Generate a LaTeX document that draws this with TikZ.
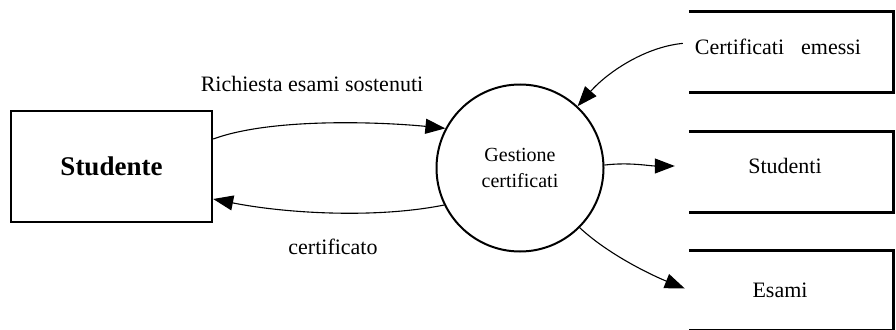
\documentclass[tikz,border=0pt]{standalone}
\usepackage{fontspec}
\setmainfont{Liberation Serif}
\usetikzlibrary{arrows.meta,calc}
\begin{document}
\begin{tikzpicture}[x=1pt,y=-1pt,
  flow/.style={line width=1.1pt,-{Triangle[length=20pt,width=15pt]}},
  entity/.style={draw,line width=2.4pt,minimum width=201pt,minimum height=111pt,inner sep=0pt,
    font=\bfseries\fontsize{27}{30}\selectfont},
  process/.style={circle,draw,line width=2pt,minimum size=167pt,inner sep=0pt,align=center,
    font=\fontsize{20}{26}\selectfont},
  storebox/.style={minimum width=204pt,minimum height=80pt,inner sep=0pt},
  storeline/.style={line width=2.8pt},
  lbl/.style={font=\fontsize{22}{26}\selectfont,inner sep=0pt,anchor=base}]
\useasboundingbox (0,0) rectangle (896,329);

% external entity and process
\node[entity] (stud) at (111.5,166.5) {Studente};
\node[process] (circ) at (520,168) {Gestione\\certificati};

% data stores (open on the left)
\node[storebox] (sA) at (791,52) {};
\node[storebox] (sB) at (791,172) {};
\node[storebox] (sC) at (791,290.5) {};
\foreach \s in {sA,sB,sC}
  \draw[storeline] (\s.north west) -- (\s.north east) -- (\s.south east) -- (\s.south west);

\node[lbl] (tA) at (778,55) {Certificati\hspace{17pt}emessi};
\node[lbl] (tB) at (785,173) {Studenti};
\node[lbl] (tC) at (780,297) {Esami};

% flow labels
\node[lbl] (lReq) at (312,92) {Richiesta esami sostenuti};
\node[lbl] (lCert) at (333,254) {certificato};

% data flows
\draw[flow] ([yshift=27.5pt]stud.east) .. controls +(60,-22) and +(-60,-6) .. (circ.152);
\draw[flow] (circ.206) .. controls +(-70,14) and +(70,14) .. ([yshift=-32.5pt]stud.east);
\draw[flow] ([shift={(-12pt,4pt)}]tA.west) .. controls +(-40,4) and +(28,-32) .. (circ.47);
\draw[flow] (circ.2) .. controls +(25,-3) and +(-25,0) .. ([shift={(-14pt,6pt)}]sB.west);
\draw[flow] (circ.-45) .. controls +(30,28) and +(-30,-12) .. ([shift={(-4pt,2pt)}]sC.west);
\end{tikzpicture}
\end{document}
